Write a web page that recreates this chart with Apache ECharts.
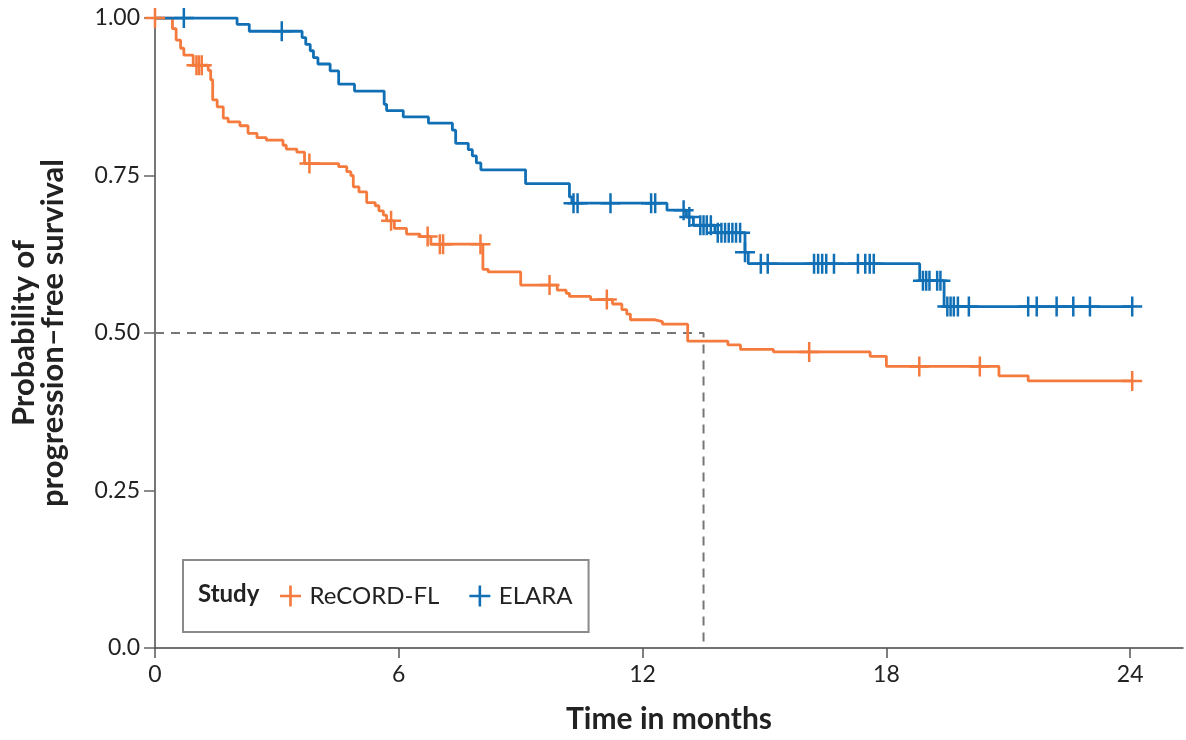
<!DOCTYPE html>
<html>
<head>
<meta charset="utf-8">
<script src="https://cdn.jsdelivr.net/npm/echarts@6/dist/echarts.min.js"></script>
<style>
html,body{margin:0;padding:0;background:#fff;}
#chart{width:1186px;height:740px;}
</style>
</head>
<body>
<div id="chart"></div>
<script>
// ---- Data ----
const xTicks = [0, 6, 12, 18, 24];
const yTicks = [0, 0.25, 0.5, 0.75, 1.0];

// ReCORD-FL Kaplan–Meier steps: [time, survival after step]
const recordSteps = [
  [0, 1.0], [0.43, 0.983], [0.52, 0.965], [0.63, 0.952], [0.71, 0.941], [0.94, 0.925],
  [1.31, 0.917], [1.37, 0.902], [1.42, 0.870], [1.53, 0.859], [1.68, 0.841], [1.80, 0.835],
  [2.09, 0.829], [2.29, 0.817], [2.51, 0.810], [2.74, 0.806], [3.15, 0.798], [3.23, 0.792],
  [3.49, 0.787], [3.68, 0.769], [4.52, 0.764], [4.72, 0.756], [4.82, 0.750], [4.88, 0.732],
  [5.02, 0.724], [5.21, 0.707], [5.42, 0.702], [5.51, 0.694], [5.62, 0.687], [5.70, 0.678],
  [5.89, 0.666], [6.19, 0.657], [6.52, 0.653], [6.79, 0.641], [8.07, 0.601], [8.20, 0.597],
  [9.00, 0.576], [9.90, 0.568], [10.12, 0.563], [10.20, 0.558], [10.72, 0.553], [11.26, 0.546],
  [11.49, 0.537], [11.61, 0.530], [11.70, 0.521], [12.31, 0.518], [12.49, 0.514], [13.11, 0.487],
  [14.10, 0.481], [14.41, 0.474], [15.22, 0.470], [17.60, 0.463], [18.00, 0.447], [20.77, 0.432],
  [21.49, 0.424], [24.05, 0.424]
];
// ReCORD-FL censored observations
const recordCensor = [
  [0, 1.0], [1.02, 0.925], [1.08, 0.925], [1.15, 0.925], [3.80, 0.769], [5.81, 0.678],
  [6.71, 0.653], [7.01, 0.641], [7.09, 0.641], [8.01, 0.641], [9.71, 0.576], [11.12, 0.553],
  [16.10, 0.470], [18.81, 0.447], [20.30, 0.447], [24.05, 0.424]
];

// ELARA Kaplan–Meier steps
const elaraSteps = [
  [0, 1.0], [2.02, 0.990], [2.32, 0.979], [3.62, 0.969], [3.71, 0.958], [3.82, 0.948],
  [3.90, 0.937], [4.01, 0.927], [4.31, 0.916], [4.52, 0.895], [4.91, 0.884], [5.64, 0.863],
  [5.70, 0.853], [6.11, 0.843], [6.73, 0.833], [7.32, 0.822], [7.40, 0.801], [7.71, 0.791],
  [7.81, 0.781], [7.91, 0.770], [8.02, 0.759], [9.12, 0.737], [10.20, 0.716], [10.26, 0.706],
  [12.60, 0.695], [13.08, 0.684], [13.25, 0.671], [13.78, 0.659], [14.52, 0.628], [14.60, 0.610],
  [18.82, 0.583], [19.42, 0.542], [24.05, 0.542]
];
// ELARA censored observations
const elaraCensor = [
  [0.71, 1.0], [3.12, 0.979], [10.30, 0.706], [10.40, 0.706], [11.21, 0.706], [12.21, 0.706],
  [12.31, 0.706], [13.01, 0.695], [13.15, 0.684], [13.42, 0.671], [13.50, 0.671], [13.58, 0.671],
  [13.68, 0.671], [13.85, 0.659], [13.94, 0.659], [14.03, 0.659], [14.12, 0.659], [14.21, 0.659],
  [14.30, 0.659], [14.40, 0.659], [14.52, 0.628], [14.91, 0.610], [15.08, 0.610], [16.22, 0.610],
  [16.32, 0.610], [16.42, 0.610], [16.52, 0.610], [16.71, 0.610], [17.30, 0.610], [17.48, 0.610],
  [17.59, 0.610], [17.69, 0.610], [18.90, 0.583], [18.98, 0.583], [19.06, 0.583], [19.25, 0.583],
  [19.33, 0.583], [19.50, 0.542], [19.58, 0.542], [19.66, 0.542], [19.76, 0.542], [20.03, 0.542],
  [21.49, 0.542], [21.70, 0.542], [22.19, 0.542], [22.60, 0.542], [23.01, 0.542], [24.05, 0.542]
];

// Median reference (dashed)
const medianLine = [[0, 0.5], [13.5, 0.5], [13.5, 0]];

// ---- Styles ----
const ORANGE = '#f47a3d';
const BLUE = '#1170b5';
const FONT = 'Lato';
const CROSS = 'path://M8.75,0H11.25V20H8.75Z M0,8.75H20V11.25H0Z';

const chart = echarts.init(document.getElementById('chart'), null, {renderer: 'canvas'});

chart.setOption({
  animation: false,
  backgroundColor: '#ffffff',
  textStyle: {fontFamily: FONT},
  grid: {left: 155, right: 3, top: 18, bottom: 92, containLabel: false},
  xAxis: {
    type: 'value', min: 0, max: 25.3,
    name: 'Time in months', nameLocation: 'middle', nameGap: 56,
    nameTextStyle: {fontFamily: FONT, fontSize: 30, fontWeight: 'bold', color: '#222'},
    axisLine: {show: true, lineStyle: {color: '#444', width: 1.5}},
    axisTick: {show: true, length: 10, lineStyle: {color: '#555', width: 1.5}, customValues: xTicks},
    axisLabel: {fontFamily: FONT, fontSize: 23, color: '#222', margin: 15, customValues: xTicks},
    splitLine: {show: false}
  },
  yAxis: {
    type: 'value', min: 0, max: 1,
    name: 'Probability of\nprogression–free survival', nameLocation: 'middle', nameGap: 88,
    nameRotate: 90,
    nameTextStyle: {fontFamily: FONT, fontSize: 31, fontWeight: 'bold', color: '#222', lineHeight: 29, align: 'center'},
    axisLine: {show: true, lineStyle: {color: '#777', width: 2}},
    axisTick: {show: true, length: 11, lineStyle: {color: '#666', width: 1.5}, customValues: yTicks},
    axisLabel: {fontFamily: FONT, fontSize: 23, color: '#222', margin: 15, customValues: yTicks,
      formatter: v => (v === 0 ? '0.0' : v.toFixed(2))},
    splitLine: {show: false}
  },
  legend: {
    left: 183, top: 560,
    orient: 'horizontal',
    padding: [24, 16, 24, 97],
    itemWidth: 28, itemHeight: 21, itemGap: 30,
    backgroundColor: '#ffffff',
    borderColor: '#8a8a8a', borderWidth: 2, borderRadius: 0,
    textStyle: {fontFamily: FONT, fontSize: 24, color: '#222'},
    data: [
      {name: 'ReCORD-FL', icon: CROSS},
      {name: 'ELARA', icon: CROSS}
    ],
    selectedMode: false
  },
  graphic: [{
    type: 'text', left: 198, top: 582, z: 100,
    style: {text: 'Study', font: 'bold 24px Lato', fill: '#222'}
  }],
  series: [
    {
      name: 'median', type: 'line', data: medianLine, symbol: 'none', silent: true, z: 1,
      lineStyle: {color: '#777', width: 2, type: [9, 7]}
    },
    {
      name: 'ReCORD-FL curve', type: 'line', step: 'end', data: recordSteps, symbol: 'none', z: 3,
      lineStyle: {color: ORANGE, width: 2.8}, itemStyle: {color: ORANGE}
    },
    {
      name: 'ELARA curve', type: 'line', step: 'end', data: elaraSteps, symbol: 'none', z: 3,
      lineStyle: {color: BLUE, width: 2.8}, itemStyle: {color: BLUE}
    },
    {
      name: 'ReCORD-FL', type: 'scatter', data: recordCensor, symbol: CROSS, symbolSize: [20, 20], z: 4,
      itemStyle: {color: ORANGE, opacity: 1}
    },
    {
      name: 'ELARA', type: 'scatter', data: elaraCensor, symbol: CROSS, symbolSize: [20, 20], z: 4,
      itemStyle: {color: BLUE, opacity: 1}
    }
  ]
});
</script>
</body>
</html>
